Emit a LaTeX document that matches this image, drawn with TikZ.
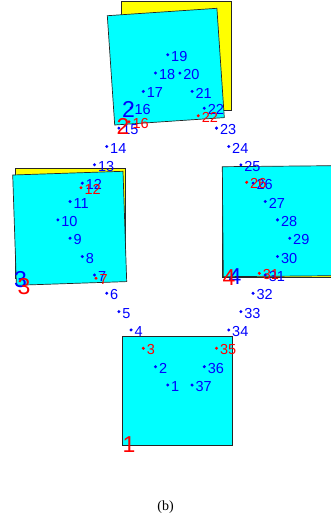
\documentclass[tikz,border=0pt]{standalone}
\usepackage{fontspec}
\setmainfont{Liberation Sans}
\newfontfamily\capfont{Liberation Serif}
\definecolor{cyanbox}{RGB}{0,255,255}
\definecolor{yellowbox}{RGB}{255,255,0}
\definecolor{ptblue}{RGB}{0,0,255}
\definecolor{ptred}{RGB}{255,0,0}
\begin{document}
\begin{tikzpicture}[x=1pt,y=-1pt,
  box/.style={draw=black!85,line width=0.7pt},
  dot/.style={circle,inner sep=0pt,minimum size=3.3pt,draw=none},
  lab/.style={anchor=west,inner sep=0pt,font=\fontsize{14.5}{16}\selectfont},
  big/.style={inner sep=0pt,font=\fontsize{23}{25}\selectfont}]
\useasboundingbox (0,0) rectangle (331,520);
\clip (0,0) rectangle (331,520);
% top box
\path[box,fill=yellowbox] (121.7,1) rectangle (231,110.5);
\path[box,fill=cyanbox] (107.3,15.7) -- (216.9,8.3) -- (224.3,117.6) -- (114.7,125) -- cycle;
% left box
\path[box,fill=yellowbox] (15,168.3) rectangle (125,278);
\path[box,fill=cyanbox] (12.7,175) -- (123,171.3) -- (126.7,281.6) -- (16.4,285.3) -- cycle;
% right box
\path[box,fill=yellowbox] (222,167.5) rectangle (332,277.5);
\path[box,fill=cyanbox] (222.3,166.7) -- (332.3,165.7) -- (333.3,275.7) -- (223.3,276.7) -- cycle;
% bottom box
\path[box,fill=cyanbox] (122,336) rectangle (232,445);
% blue points
\foreach \i/\x/\y in {1/167.7/385.0,2/155.5/366.65,4/131.1/329.95,5/118.9/311.6,6/106.7/293.25,7/94.5/274.9,8/82.3/256.55,9/70.1/238.2,10/57.9/219.85,11/70.1/201.5,12/82.3/183.15,13/94.5/164.8,14/106.7/146.45,15/118.9/128.1,16/131.1/107.8,17/143.3/91.4,18/155.5/73.05,19/167.7/54.7,20/179.9/73.05,21/192.1/91.4,22/204.3/108.2,23/216.5/128.1,24/228.7/146.45,25/240.9/164.8,26/253.1/183.15,27/265.3/201.5,28/277.5/219.85,29/289.7/238.2,30/277.5/256.55,31/265.3/274.9,32/253.1/293.25,33/240.9/311.6,34/228.7/329.95,36/204.3/366.65,37/192.1/385.0}{
  \node[dot,fill=ptblue] (bd\i) at (\x,\y) {};
  \node[lab,text=ptblue] (bl\i) at (\x+3.3,\y+1.6) {\i};
}
% red points
\foreach \i/\x/\y in {3/143.3/348.3,35/216.5/348.3,7/96/278.3,12/81/187.7,16/129/121.7,22/198.3/115.7,26/246.7/182.3,31/259.3/273.3}{
  \node[dot,fill=ptred] (rd\i) at (\x,\y) {};
  \node[lab,text=ptred] (rl\i) at (\x+3.3,\y+1.6) {\i};
}
% big labels
\node[big,text=ptred] (n1) at (129,445) {1};
\node[big,text=ptblue] (n2b) at (128.5,109) {2};
\node[big,text=ptred] (n2r) at (123,126.7) {2};
\node[big,text=ptblue] (n3b) at (20.5,279.5) {3};
\node[big,text=ptred] (n3r) at (24,286.5) {3};
\node[big,text=ptblue] (n4b) at (235,277) {4};
\node[big,text=ptred] (n4r) at (229,277.5) {4};
% caption
\node[inner sep=0pt,font=\capfont\fontsize{14}{16}\selectfont] (cap) at (165.5,507) {(b)};
\end{tikzpicture}
\end{document}
